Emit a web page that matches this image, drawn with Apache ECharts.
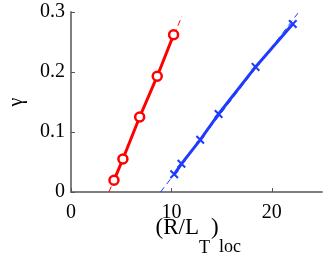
<!DOCTYPE html>
<html><head><meta charset="utf-8">
<script src="https://cdn.jsdelivr.net/npm/echarts@6/dist/echarts.min.js"></script>
<style>html,body{margin:0;padding:0;background:#fff}#c{width:334px;height:256px}</style>
</head><body><div id="c"></div>
<script>
var redX = [4.28, 5.17, 6.84, 8.59, 10.22];
var redY = [0.0195, 0.055, 0.125, 0.193, 0.262];
var blueX = [10.28, 11.0, 12.87, 14.7, 18.38, 22.09];
var blueY = [0.0295, 0.047, 0.087, 0.130, 0.2085, 0.28];
var redFitX = [3.78, 11.04];
var redFitY = [0, 0.293];
var blueFitX = [8.92, 22.6];
var blueFitY = [0, 0.298];
var xTicks = [0, 10, 20];
var yTicks = [0, 0.1, 0.2, 0.3];
var xNameParts = ['(R/L', 'T', ')', 'loc'];

function pairs(xs, ys){ return xs.map(function(v,i){return [v, ys[i]];}); }
var RED = '#ff0000', BLUE = '#1f3bff';
var font = 'Liberation Serif';
var crossPath = 'path://M0,1.6L1.6,0L5,3.4L8.4,0L10,1.6L6.6,5L10,8.4L8.4,10L5,6.6L1.6,10L0,8.4L3.4,5Z';

function txt(s, x, y, size, align){
  return {type: 'text', x: x, y: y, silent: true,
    style: {text: s, fill: '#000', font: size + 'px "' + font + '"', align: align, verticalAlign: 'middle'}};
}

var chart = echarts.init(document.getElementById('c'));
chart.setOption({
  animation: false,
  grid: {left: 71, right: 12, top: 12, bottom: 64, containLabel: false, outerBoundsMode: 'none'},
  xAxis: {
    type: 'value', min: 0, max: 25, interval: 10,
    axisLine: {show: true, onZero: false, lineStyle: {color: '#7f7f7f', width: 2}},
    axisTick: {show: true, inside: true, length: 4, customValues: xTicks, lineStyle: {color: '#555', width: 1}},
    axisLabel: {customValues: xTicks, color: '#000', fontFamily: font, fontSize: 20, margin: 11},
    splitLine: {show: false}
  },
  yAxis: {
    type: 'value', min: 0, max: 0.3, interval: 0.1,
    axisLine: {show: true, onZero: false, lineStyle: {color: '#7f7f7f', width: 2}},
    axisTick: {show: true, inside: true, length: 4, lineStyle: {color: '#555', width: 1}},
    axisLabel: {color: '#000', fontFamily: font, fontSize: 20, margin: 6,
      formatter: function(v){ return v === 0 ? '0' : v.toFixed(1); }},
    splitLine: {show: false},
    name: 'γ', nameLocation: 'middle', nameGap: 44, nameRotate: 90, nameMoveOverlap: false,
    nameTextStyle: {color: '#000', fontFamily: font, fontSize: 20}
  },
  graphic: [
    txt(xNameParts[0], 199, 228, 23, 'right'),
    txt(xNameParts[1], 199, 248, 18, 'left'),
    txt(xNameParts[2], 211, 228, 23, 'left'),
    txt(xNameParts[3], 219, 247, 18, 'left')
  ],
  series: [
    {type: 'line', data: pairs(redFitX, redFitY), symbol: 'none', z: 1,
     lineStyle: {color: RED, width: 1, type: [6, 4]}},
    {type: 'line', data: pairs(blueFitX, blueFitY), symbol: 'none', z: 1,
     lineStyle: {color: BLUE, width: 1, type: [6, 4]}},
    {type: 'line', data: pairs(redX, redY), z: 3,
     lineStyle: {color: RED, width: 3},
     symbol: 'circle', symbolSize: 9,
     itemStyle: {color: '#fff', borderColor: RED, borderWidth: 2.5}},
    {type: 'line', data: pairs(blueX, blueY), z: 3,
     lineStyle: {color: BLUE, width: 3},
     symbol: crossPath, symbolSize: 9, symbolKeepAspect: true,
     itemStyle: {color: BLUE, borderWidth: 0}}
  ]
});
</script></body></html>
